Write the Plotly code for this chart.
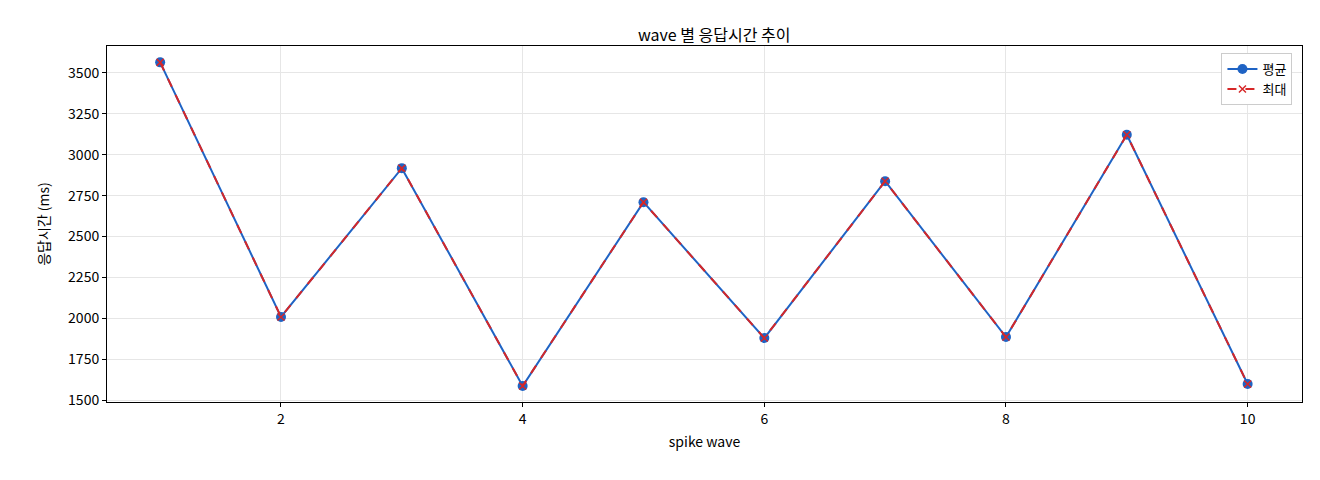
import plotly.graph_objects as go

waves = [1, 2, 3, 4, 5, 6, 7, 8, 9, 10]
avg_ms = [3565, 2008, 2918, 1586, 2710, 1879, 2838, 1885, 3122, 1598]
max_ms = [3565, 2008, 2918, 1586, 2710, 1879, 2838, 1885, 3122, 1598]

fig = go.Figure()
fig.add_trace(go.Scatter(x=waves, y=avg_ms, name='평균', mode='lines+markers',
                         line=dict(color='#1f63c4', width=2),
                         marker=dict(size=10, color='#1f63c4')))
fig.add_trace(go.Scatter(x=waves, y=max_ms, name='최대', mode='lines+markers',
                         line=dict(color='#d62728', width=2, dash='dash'),
                         marker=dict(size=7, symbol='x-thin', color='#d62728',
                                     line=dict(width=1.5, color='#d62728'))))

axis = dict(showline=True, linecolor='black', mirror=True, ticks='outside',
            ticklen=4, tickcolor='black', gridcolor='#e6e6e6', zeroline=False,
            tickfont=dict(size=14))
fig.update_layout(
    width=1320, height=480,
    font=dict(family='Noto Sans CJK KR', size=13, color='black'),
    title=dict(text='wave 별 응답시간 추이', x=0.535, y=0.955, font=dict(size=16)),
    plot_bgcolor='white', paper_bgcolor='white',
    margin=dict(l=99, r=26, t=38, b=86),
    xaxis=dict(title=dict(text='spike wave', standoff=10, font=dict(size=14)),
               range=[0.56, 10.45], tickvals=[2, 4, 6, 8, 10], **axis),
    yaxis=dict(title=dict(text='응답시간 (ms)', font=dict(size=14)), range=[1488, 3665],
               tickvals=[1500, 1750, 2000, 2250, 2500, 2750, 3000, 3250, 3500], **axis),
    legend=dict(x=0.992, y=0.98, xanchor='right', yanchor='top',
                bordercolor='#cccccc', borderwidth=1, bgcolor='white'),
)
fig.write_html("out.html")
